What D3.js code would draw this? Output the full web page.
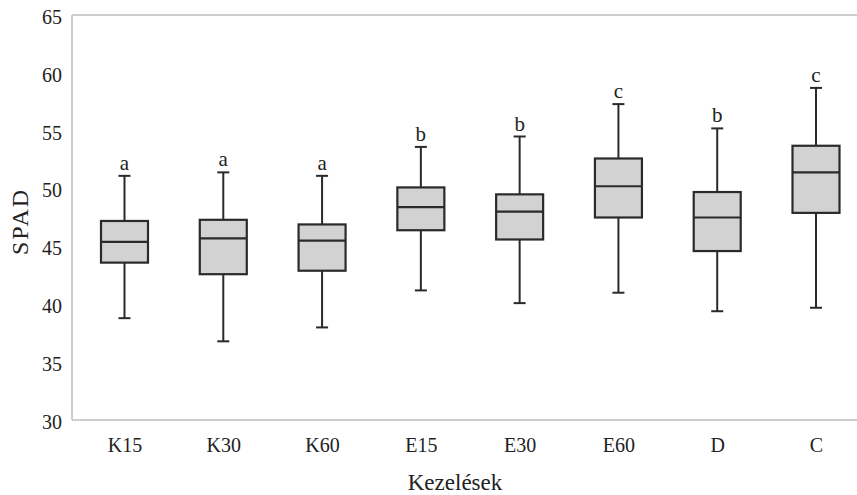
<!DOCTYPE html>
<html>
<head>
<meta charset="utf-8">
<script src="https://cdn.jsdelivr.net/npm/d3@7"></script>
<style>
  html, body { margin: 0; padding: 0; background: #fff; }
  svg { display: block; }
  text { font-family: "Liberation Serif", "Times New Roman", serif; fill: #222; }
</style>
</head>
<body>
<svg id="chart" width="857" height="495"></svg>
<script>
// Data
const categories = ["K15", "K30", "K60", "E15", "E30", "E60", "D", "C"];
const whiskerLow = [38.8, 36.8, 38.0, 41.2, 40.1, 41.0, 39.4, 39.7];
const q1Values   = [43.6, 42.6, 42.9, 46.4, 45.6, 47.5, 44.6, 47.9];
const medians    = [45.4, 45.7, 45.5, 48.4, 48.0, 50.2, 47.5, 51.4];
const q3Values   = [47.2, 47.3, 46.9, 50.1, 49.5, 52.6, 49.7, 53.7];
const whiskerHigh= [51.1, 51.4, 51.1, 53.6, 54.5, 57.3, 55.2, 58.7];
const groupLetters = ["a", "a", "a", "b", "b", "c", "b", "c"];
const yTicks = [30, 35, 40, 45, 50, 55, 60, 65];
const yLabel = "SPAD";
const xLabel = "Kezelések";

(function () {
const rows = categories.map((c, i) => ({
  cat: c, lo: whiskerLow[i], q1: q1Values[i], med: medians[i],
  q3: q3Values[i], hi: whiskerHigh[i], letter: groupLetters[i]
}));

const svg = d3.select("#chart");
const mLeft = 72, mRight = 857, mTop = 15, mBottom = 420;

const x = d3.scalePoint().domain(categories).range([124.5, 816]);
const y = d3.scaleLinear().domain([30, 65]).range([mBottom, mTop]);

const boxW = 47, capW = 12;
const strokeCol = "#2a2a2a";

// Frame (left, top, bottom)
const frameCol = "#bcbcbc";
svg.append("line").attr("x1", mLeft).attr("x2", mLeft).attr("y1", mTop).attr("y2", mBottom)
  .attr("stroke", frameCol).attr("stroke-width", 1.5);
svg.append("line").attr("x1", mLeft).attr("x2", mRight).attr("y1", y(65)).attr("y2", y(65))
  .attr("stroke", frameCol).attr("stroke-width", 1.5);
svg.append("line").attr("x1", mLeft).attr("x2", mRight).attr("y1", y(30)).attr("y2", y(30))
  .attr("stroke", frameCol).attr("stroke-width", 1.5);

// Y axis
const yAxis = svg.append("g").attr("transform", `translate(${mLeft},0)`)
  .call(d3.axisLeft(y).tickValues(yTicks).tickSize(0).tickPadding(10));
yAxis.select(".domain").remove();
yAxis.selectAll("text").style("font-family", '"Liberation Serif", serif')
  .style("font-size", "20px").attr("fill", "#222").attr("dy", "0.42em");

// X axis
const xAxis = svg.append("g").attr("transform", `translate(0,${mBottom})`)
  .call(d3.axisBottom(x).tickSize(0).tickPadding(18));
xAxis.select(".domain").remove();
xAxis.selectAll("text").style("font-family", '"Liberation Serif", serif')
  .style("font-size", "20px").attr("fill", "#222");

// Boxes
const g = svg.append("g").selectAll("g").data(rows).join("g");

g.append("line")
  .attr("x1", d => x(d.cat)).attr("x2", d => x(d.cat))
  .attr("y1", d => y(d.hi)).attr("y2", d => y(d.q3))
  .attr("stroke", strokeCol).attr("stroke-width", 2);
g.append("line")
  .attr("x1", d => x(d.cat)).attr("x2", d => x(d.cat))
  .attr("y1", d => y(d.q1)).attr("y2", d => y(d.lo))
  .attr("stroke", strokeCol).attr("stroke-width", 2);
g.append("line")
  .attr("x1", d => x(d.cat) - capW / 2).attr("x2", d => x(d.cat) + capW / 2)
  .attr("y1", d => y(d.hi)).attr("y2", d => y(d.hi))
  .attr("stroke", strokeCol).attr("stroke-width", 2);
g.append("line")
  .attr("x1", d => x(d.cat) - capW / 2).attr("x2", d => x(d.cat) + capW / 2)
  .attr("y1", d => y(d.lo)).attr("y2", d => y(d.lo))
  .attr("stroke", strokeCol).attr("stroke-width", 2);
g.append("rect")
  .attr("x", d => x(d.cat) - boxW / 2).attr("width", boxW)
  .attr("y", d => y(d.q3)).attr("height", d => y(d.q1) - y(d.q3))
  .attr("fill", "#d2d2d2").attr("stroke", strokeCol).attr("stroke-width", 2.2);
g.append("line")
  .attr("x1", d => x(d.cat) - boxW / 2).attr("x2", d => x(d.cat) + boxW / 2)
  .attr("y1", d => y(d.med)).attr("y2", d => y(d.med))
  .attr("stroke", strokeCol).attr("stroke-width", 2.2);
g.append("text")
  .attr("x", d => x(d.cat)).attr("y", d => y(d.hi) - 6)
  .attr("text-anchor", "middle").style("font-size", "21px")
  .text(d => d.letter);

// Axis titles
svg.append("text")
  .attr("transform", `translate(28,${(mTop + mBottom) / 2 + 4}) rotate(-90)`)
  .attr("text-anchor", "middle").style("font-size", "24px").style("letter-spacing", "2px")
  .text(yLabel);
svg.append("text")
  .attr("x", 455).attr("y", 490)
  .attr("text-anchor", "middle").style("font-size", "23px")
  .text(xLabel);
})();
</script>
</body>
</html>
